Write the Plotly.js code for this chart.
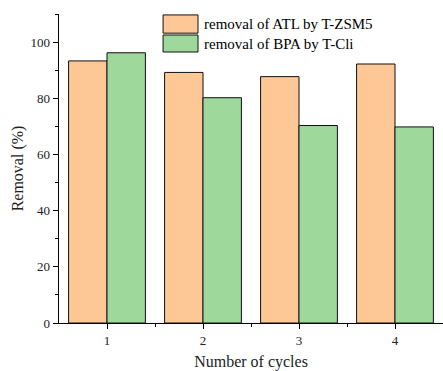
<!DOCTYPE html>
<html>
<head>
<meta charset="utf-8">
<script src="https://cdn.plot.ly/plotly-3.0.1.min.js"></script>
<style>html,body{margin:0;padding:0;background:#fff;}#chart{width:443px;height:371px;}</style>
</head>
<body>
<div id="chart"></div>
<script>
var cycles = [1, 2, 3, 4];
var seriesNames = ["removal of ATL by T-ZSM5", "removal of BPA by T-Cli"];
var atlValues = [93.3, 89.2, 87.7, 92.2];
var bpaValues = [96.2, 80.2, 70.3, 69.8];
var yTickVals = [0, 20, 40, 60, 80, 100];
var colors = ["#FDC796", "#9ED89B"];

var font = "Liberation Serif, Times New Roman, serif";
var traces = [
  {type: "bar", x: cycles, y: atlValues, name: seriesNames[0],
   marker: {color: colors[0], line: {color: "#111", width: 1}}},
  {type: "bar", x: cycles, y: bpaValues, name: seriesNames[1],
   marker: {color: colors[1], line: {color: "#111", width: 1}}}
];

var legendShapes = [], legendAnn = [];
var boxes = [[0.997, 0.938], [0.932, 0.877]];
for (var i = 0; i < 2; i++) {
  legendShapes.push({type: "rect", xref: "paper", yref: "paper",
    x0: 0.271, x1: 0.362, y0: boxes[i][1], y1: boxes[i][0],
    fillcolor: colors[i], line: {color: "#111", width: 1}});
  legendAnn.push({xref: "paper", yref: "paper", x: 0.373, y: (boxes[i][0] + boxes[i][1]) / 2,
    xanchor: "left", yanchor: "middle", text: seriesNames[i], showarrow: false,
    font: {family: font, size: 15, color: "#000"}});
}

var layout = {
  width: 443, height: 371,
  margin: {l: 59, r: 0, t: 14, b: 48, pad: 0},
  paper_bgcolor: "#fff", plot_bgcolor: "#fff",
  barmode: "group", bargap: 0.2, bargroupgap: 0,
  showlegend: false,
  font: {family: font, color: "#222", size: 13},
  xaxis: {
    range: [0.5, 4.5], tickvals: cycles, ticktext: cycles.map(String),
    ticks: "outside", ticklen: 5, tickwidth: 1, tickcolor: "#000",
    showline: true, linecolor: "#000", linewidth: 1.3, showgrid: false, zeroline: false,
    minor: {tickvals: [1.5, 2.5, 3.5], ticks: "outside", ticklen: 3, tickcolor: "#000", showgrid: false},
    tickfont: {family: font, size: 13, color: "#222"},
    title: {text: "Number of cycles", font: {family: font, size: 16, color: "#222"}, standoff: 10}
  },
  yaxis: {
    range: [0, 110], tickvals: yTickVals,
    ticks: "outside", ticklen: 5, tickwidth: 1, tickcolor: "#000",
    showline: true, linecolor: "#000", linewidth: 1.3, showgrid: false, zeroline: false,
    minor: {tickvals: [10, 30, 50, 70, 90, 110], ticks: "outside", ticklen: 3, tickcolor: "#000", showgrid: false},
    tickfont: {family: font, size: 13, color: "#222"},
    title: {text: "Removal (%)", font: {family: font, size: 16, color: "#222"}, standoff: 3}
  },
  shapes: legendShapes,
  annotations: legendAnn
};

Plotly.newPlot("chart", traces, layout, {displayModeBar: false, staticPlot: true});
</script>
</body>
</html>
